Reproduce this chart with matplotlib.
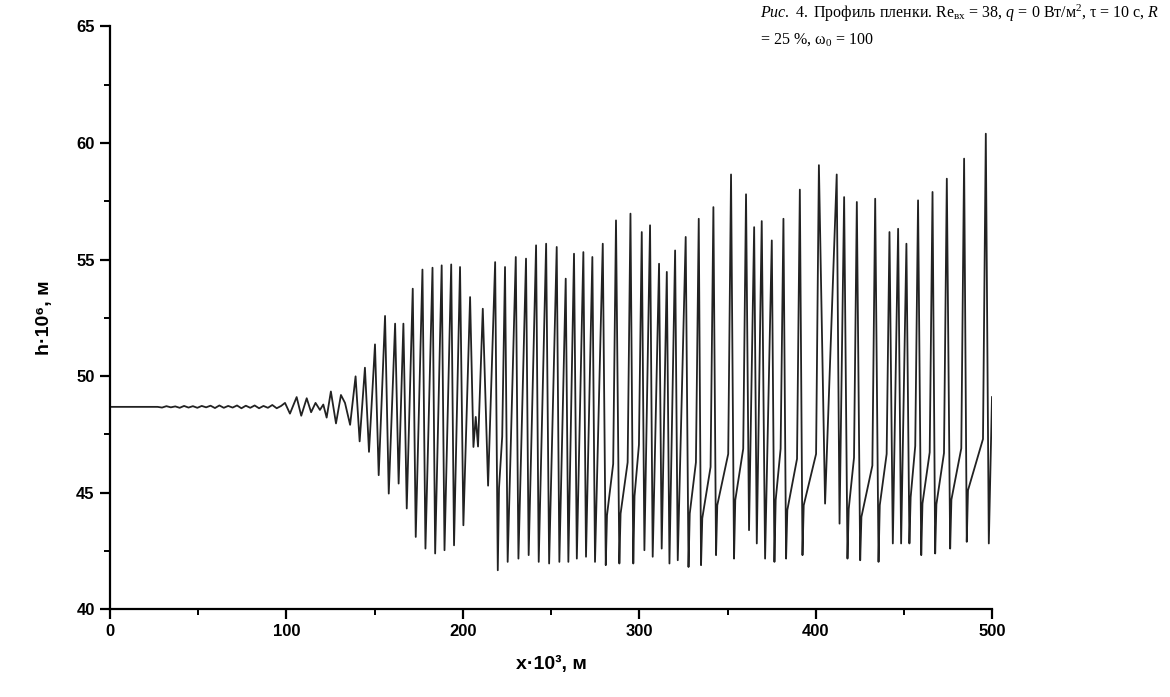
import numpy as np
import matplotlib
matplotlib.use('Agg')
import matplotlib.pyplot as plt
from matplotlib.ticker import MultipleLocator

plt.rcParams['mathtext.fontset'] = 'custom'
plt.rcParams['mathtext.rm'] = 'Liberation Serif'
plt.rcParams['mathtext.it'] = 'Liberation Serif:italic'

# Flat part with tiny ripples
ripple_x = [0, 27, 29.5, 32, 34.5, 37, 39.5, 42, 44.5, 47, 49.5, 52, 54.5, 57, 59.5,
            62, 64.5, 67, 69.5, 72, 74.5, 77, 79.5, 82, 84.5, 87, 89.5, 92, 94.5, 97]
ripple_h = [48.68, 48.68, 48.65, 48.71, 48.66, 48.70, 48.64, 48.72, 48.65, 48.71,
            48.64, 48.72, 48.66, 48.73, 48.63, 48.74, 48.64, 48.72, 48.65, 48.74,
            48.62, 48.73, 48.64, 48.74, 48.62, 48.72, 48.64, 48.76, 48.62, 48.72]

# Growing waves (extrema)
onset_x = [99.2, 102.0, 105.8, 108.4, 111.5, 114.0, 116.5, 119.0, 120.9, 122.8,
           125.2, 128.1, 130.9, 133.2, 136.1, 139.2, 141.5, 144.5, 146.8, 150.2,
           152.3, 155.9, 158.0, 161.6, 163.6, 166.3, 168.2, 171.6, 173.3, 177.1,
           178.8, 182.8, 184.3, 188.0, 189.6, 193.4, 195.0]
onset_h = [48.85, 48.39, 49.10, 48.30, 49.05, 48.45, 48.85, 48.55, 48.78, 48.22,
           49.34, 47.97, 49.19, 48.85, 47.91, 49.99, 47.20, 50.36, 46.75, 51.36,
           45.75, 52.58, 44.96, 52.25, 45.39, 52.25, 44.32, 53.75, 43.10, 54.57,
           42.60, 54.65, 42.39, 54.75, 42.53, 54.79, 42.74]

mid_x = [198.4, 200.3, 204.1, 206.0, 207.3, 208.6, 211.3, 214.3]
mid_h = [54.68, 43.60, 53.39, 46.96, 48.25, 46.98, 52.89, 45.30]

# Developed waves: peak, trough, shoulder after trough
peaks_x = [218.3, 223.9, 230.0, 235.8, 241.5, 247.2, 253.2, 258.3, 263.0, 268.3,
           273.4, 279.3, 286.8, 295.0, 301.4, 306.1, 311.2, 315.6, 320.3, 326.3,
           333.7, 342.0, 352.0, 360.5, 365.1, 369.4, 375.1, 381.7, 391.0, 401.8,
           411.9, 416.1, 423.3, 433.7, 441.8, 446.7, 451.4, 458.0, 466.2, 474.3,
           484.1, 496.4]
peaks_h = [54.89, 54.68, 55.11, 55.04, 55.61, 55.68, 55.54, 54.18, 55.25, 55.32,
           55.11, 55.68, 56.68, 56.97, 56.18, 56.47, 54.82, 54.47, 55.39, 55.97,
           56.75, 57.25, 58.65, 57.80, 56.39, 56.65, 55.82, 56.75, 58.00, 59.05,
           58.65, 57.68, 57.47, 57.61, 56.18, 56.32, 55.68, 57.54, 57.90, 58.47,
           59.33, 60.40]
troughs_x = [219.8, 225.4, 231.5, 237.3, 243.0, 248.9, 254.7, 259.8, 264.6, 269.8,
             274.9, 281.0, 288.7, 296.6, 302.9, 307.6, 312.7, 317.1, 321.8, 327.9,
             335.0, 343.5, 353.7, 362.2, 366.6, 371.3, 376.6, 383.2, 392.5, 405.3,
             413.5, 418.0, 425.2, 435.6, 443.7, 448.4, 453.1, 459.8, 467.7, 476.2,
             485.6, 498.1]
troughs_h = [41.67, 42.03, 42.17, 42.32, 42.03, 41.96, 42.03, 42.03, 42.17, 42.25,
             42.03, 41.89, 41.96, 41.96, 42.53, 42.25, 42.60, 41.96, 42.10, 41.81,
             41.89, 42.32, 42.17, 43.39, 42.82, 42.17, 42.03, 42.17, 42.32, 44.53,
             43.67, 42.17, 42.10, 42.03, 42.82, 42.82, 42.82, 42.32, 42.39, 42.60,
             42.89, 42.82]
nan = np.nan
shoulders_h = [45.2, nan, nan, nan, nan, nan, nan, nan, nan, nan,
               nan, 44.03, 44.10, 44.85, nan, nan, nan, nan, nan, 44.10,
               43.90, 44.46, 44.68, nan, nan, nan, 44.68, 44.25, 44.46, nan,
               nan, 44.30, 43.96, 44.46, nan, nan, 44.80, 44.53, 44.50, 44.70,
               45.10, nan]

end_x = [499.9]
end_h = [49.1]

# build the polyline: peak -> trough -> shoulder -> slow tail -> next peak
xs = ripple_x + onset_x + mid_x
hs = ripple_h + onset_h + mid_h
n = len(peaks_x)
for i in range(n):
    xs += [peaks_x[i], troughs_x[i]]
    hs += [peaks_h[i], troughs_h[i]]
    sh = shoulders_h[i]
    if not np.isnan(sh):
        xs.append(troughs_x[i] + 0.7)
        hs.append(sh)
        if i + 1 < n:
            xs.append(peaks_x[i + 1] - 1.6)
            hs.append(sh + 2.2)
xs += end_x
hs += end_h

fig = plt.figure(figsize=(11.7, 6.97), dpi=100)
ax = fig.add_axes([0.094, 0.126, 0.754, 0.836])
ax.plot(xs, hs, color='#222222', lw=1.3)

ax.set_xlim(0, 500)
ax.set_ylim(40, 65)
ax.spines['top'].set_visible(False)
ax.spines['right'].set_visible(False)
ax.spines['left'].set_linewidth(1.6)
ax.spines['bottom'].set_linewidth(1.6)
ax.xaxis.set_major_locator(MultipleLocator(100))
ax.xaxis.set_minor_locator(MultipleLocator(50))
ax.yaxis.set_major_locator(MultipleLocator(5))
ax.yaxis.set_minor_locator(MultipleLocator(2.5))
ax.tick_params(which='major', direction='out', length=7, width=1.6, pad=4)
ax.tick_params(which='minor', direction='out', length=4, width=1.4)
for lab in ax.get_xticklabels() + ax.get_yticklabels():
    lab.set_fontfamily('Liberation Sans')
    lab.set_fontweight('bold')
    lab.set_fontsize(12)

ax.set_xlabel('x·10³, м', family=['Liberation Sans', 'DejaVu Sans'],
              fontweight='bold', fontsize=14, labelpad=12)
ax.set_ylabel('h·10⁶, м', family=['Liberation Sans', 'DejaVu Sans'],
              fontweight='bold', fontsize=14, labelpad=17)

fig.text(0.65, 0.974,
         r'$\mathit{Рис.\ 4.}$ Профиль пленки. Re$_{\mathrm{вх}}$ = 38, $\mathit{q}$ = 0 Вт/м$^{2}$, τ = 10 с, $\mathit{R}$',
         family='Liberation Serif', fontsize=11.5, va='baseline', ha='left')
fig.text(0.65, 0.938, r'= 25 %, ω$_{0}$ = 100',
         family='Liberation Serif', fontsize=11.5, va='baseline', ha='left')

fig.savefig('out.png', dpi=100)
